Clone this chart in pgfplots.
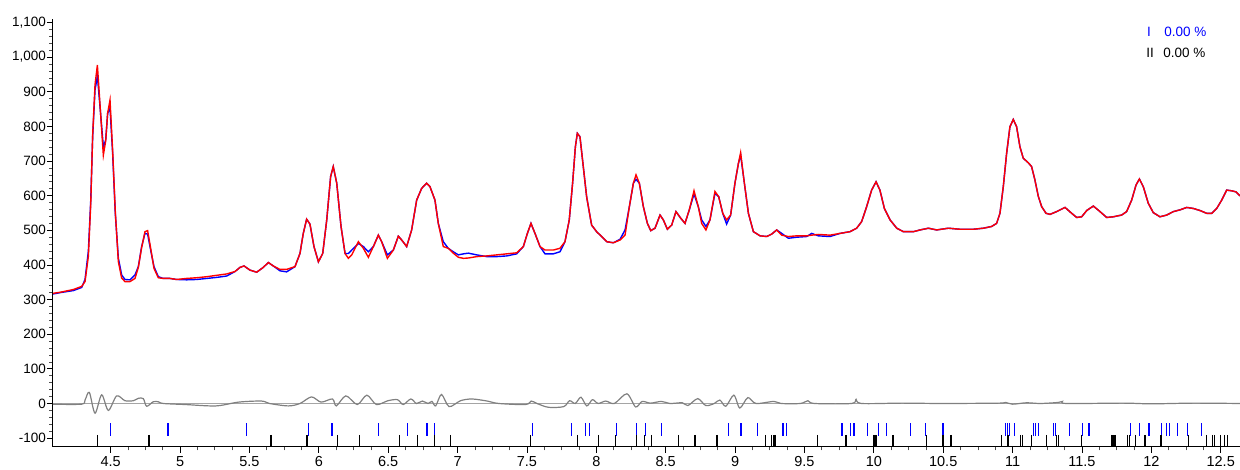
\documentclass[border=0pt]{standalone}
\usepackage{fontspec}
\setmainfont{Liberation Sans}
\usepackage{pgfplots}
\pgfplotsset{compat=1.18}
\usepackage{pgfplotstable}

\definecolor{obsblue}{RGB}{0,0,255}
\definecolor{calcred}{RGB}{255,0,0}
\definecolor{diffgray}{RGB}{128,128,128}
\definecolor{zerogray}{RGB}{165,165,165}

\pgfplotstableread{
x obs calc
4.084 316 318
4.135 320 321
4.231 326 329
4.291 335 338
4.315 358 352
4.339 440 425
4.356 585 575
4.370 770 775
4.387 905 920
4.404 945 977
4.423 857 862
4.447 741 717
4.464 761 758
4.478 838 838
4.495 852 876
4.514 722 730
4.533 549 555
4.555 420 410
4.579 371 362
4.603 358 352
4.639 357 352
4.675 371 361
4.699 395 393
4.723 453 450
4.747 491 496
4.766 489 499
4.788 443 448
4.812 395 390
4.843 366 363
4.879 361 361
4.927 361 361
4.975 358 358
5.047 357 361
5.120 358 363
5.192 361 366
5.264 364 370
5.336 368 374
5.396 381 381
5.432 393 393
5.461 397 397
5.504 385 385
5.552 379 379
5.600 393 393
5.636 407 407
5.672 397 397
5.720 383 387
5.768 380 387
5.828 395 395
5.864 433 433
5.888 491 491
5.912 532 532
5.936 518 518
5.965 453 453
5.997 409 409
6.028 433 433
6.057 530 530
6.085 655 655
6.104 684 684
6.129 636 636
6.160 511 511
6.189 433 433
6.213 433 419
6.237 443 429
6.285 462 467
6.321 453 448
6.357 438 422
6.393 453 453
6.429 486 486
6.453 467 467
6.494 429 419
6.537 443 443
6.573 483 483
6.597 472 472
6.633 453 453
6.669 501 501
6.705 587 587
6.741 621 621
6.777 636 636
6.801 626 626
6.837 587 587
6.861 520 520
6.897 467 453
6.933 448 448
6.969 438 434
7.006 429 422
7.042 432 419
7.078 434 420
7.138 429 424
7.210 424 426
7.282 424 429
7.354 426 432
7.426 432 435
7.474 453 453
7.503 491 491
7.529 520 520
7.558 491 491
7.594 453 453
7.630 432 443
7.690 432 443
7.738 438 448
7.774 467 467
7.805 530 530
7.829 636 636
7.849 741 741
7.863 780 780
7.882 770 770
7.906 684 684
7.930 597 597
7.966 515 515
8.002 496 496
8.038 482 482
8.075 467 467
8.123 464 464
8.171 474 472
8.207 501 486
8.238 568 568
8.267 636 636
8.286 647 660
8.310 636 636
8.339 568 568
8.368 520 520
8.392 499 499
8.423 506 506
8.459 544 544
8.483 530 530
8.512 503 503
8.543 515 515
8.574 554 554
8.608 535 535
8.639 520 520
8.670 559 559
8.704 605 614
8.735 568 568
8.759 530 520
8.790 511 501
8.819 530 530
8.855 607 612
8.882 597 597
8.911 549 549
8.939 518 530
8.968 544 544
8.999 636 636
9.024 693 693
9.040 717 724
9.064 645 645
9.096 549 549
9.132 496 496
9.180 484 484
9.228 482 482
9.264 489 489
9.300 501 501
9.336 491 486
9.384 477 482
9.444 480 484
9.516 482 484
9.552 491 486
9.600 484 488
9.684 482 486
9.756 491 491
9.828 496 496
9.876 506 506
9.912 525 525
9.948 568 568
9.984 616 616
10.016 640 640
10.044 616 616
10.076 563 563
10.117 530 530
10.165 506 506
10.213 496 496
10.285 496 496
10.333 501 501
10.393 506 506
10.453 501 501
10.537 506 506
10.621 503 503
10.717 503 503
10.789 506 506
10.849 511 511
10.885 520 520
10.909 549 549
10.933 626 626
10.957 722 722
10.981 799 799
11.005 820 820
11.029 799 799
11.053 741 741
11.077 708 708
11.113 695 695
11.137 684 684
11.161 645 645
11.186 597 597
11.210 568 568
11.241 549 549
11.270 546 546
11.318 554 554
11.378 566 566
11.426 549 549
11.462 537 537
11.498 539 539
11.534 557 557
11.582 570 570
11.630 554 554
11.678 537 537
11.726 539 539
11.786 544 544
11.822 554 554
11.858 587 587
11.890 631 631
11.914 648 648
11.942 626 626
11.978 578 578
12.014 551 551
12.062 539 539
12.111 544 544
12.159 554 554
12.207 559 559
12.255 566 566
12.303 563 563
12.351 557 557
12.399 549 549
12.435 549 549
12.471 563 563
12.507 587 587
12.543 616 616
12.579 614 614
12.610 611 611
12.639 599 599
}\datamain

\pgfplotstableread{
x d
4.084 -2
4.290 -2
4.315 10
4.346 32
4.387 -28
4.435 25
4.483 -20
4.543 22
4.603 8
4.663 8
4.700 15
4.735 14
4.759 -8
4.807 5
4.843 5
4.879 0
5.037 -3
5.258 -7
5.423 4
5.588 7
5.644 0
5.781 -7
5.864 0
5.947 19
6.016 4
6.098 13
6.126 -7
6.195 22
6.277 -3
6.346 24
6.415 -3
6.498 8
6.567 11
6.608 -3
6.663 13
6.704 0
6.746 7
6.787 0
6.815 6
6.842 -7
6.884 26
6.939 -9
7.021 8
7.104 13
7.214 7
7.297 0
7.490 -3
7.531 7
7.572 0
7.655 -11
7.765 -9
7.807 8
7.848 0
7.889 18
7.931 -7
7.972 11
8.013 0
8.068 7
8.130 0
8.220 28
8.283 -10
8.330 6
8.390 1
8.470 6
8.530 0
8.620 2
8.660 -6
8.731 14
8.789 -6
8.850 0
8.890 10
8.933 -8
8.991 24
9.034 -13
9.092 17
9.150 0
9.280 6
9.330 0
9.470 0
9.525 8
9.570 0
9.840 0
9.872 12
9.910 0
10.200 1
10.500 0
10.900 1
10.950 3
11.000 -2
11.100 2
11.200 0
11.330 3
11.359 6
11.390 0
11.800 1
12.000 -1
12.300 1
12.639 0
}\datadiff

\begin{document}
\begin{tikzpicture}
\useasboundingbox (0,0) rectangle (1240pt,470pt);
\begin{axis}[
  at={(53pt,23pt)}, anchor=south west,
  scale only axis, width=1187pt, height=428pt,
  xmin=4.0841, xmax=12.639, ymin=-125.6, ymax=1110,
  axis x line*=bottom, axis y line*=left,
  axis line style={black, line width=1pt, -},
  xtick={4.5,5,5.5,6,6.5,7,7.5,8,8.5,9,9.5,10,10.5,11,11.5,12,12.5},
  ytick={-100,0,100,200,300,400,500,600,700,800,900,1000,1100},
  minor x tick num=3, minor y tick num=4,
  tick align=outside,
  major tick length=6pt, minor tick length=3.5pt,
  tick style={black, line width=0.8pt},
  every minor tick/.style={gray!60!black, line width=0.7pt},
  yticklabel style={font=\fontsize{13.5}{14}\selectfont, inner sep=1pt},
  xticklabel style={font=\fontsize{14.5}{15}\selectfont},
  /pgf/number format/assume math mode=true,
  /pgf/number format/1000 sep={,},
  clip=false,
]
\addplot[zerogray, line width=1.3pt] coordinates {(4.0841,0) (12.639,0)};
\addplot[diffgray, line width=1.2pt, smooth, tension=0.5] table[x=x, y=d] {\datadiff};
\addplot[obsblue, line width=1.4pt] table[x=x, y=obs] {\datamain};
\addplot[calcred, line width=1.4pt] table[x=x, y=calc] {\datamain};
\addplot[obsblue, only marks, mark=|, mark size=6.2pt, mark options={line width=1.2pt}] coordinates {
(4.500,-75) (4.913,-75) (5.478,-75) (5.927,-75) (6.093,-75) (6.101,-75) (6.432,-75) (6.638,-75) (6.779,-75) (6.834,-75) (7.539,-75) (7.820,-75) (7.922,-75) (7.950,-75) (8.143,-75) (8.289,-75) (8.356,-75) (8.471,-75) (8.951,-75) (9.043,-75) (9.164,-75) (9.346,-75) (9.372,-75) (9.771,-75) (9.829,-75) (9.857,-75) (9.953,-75) (10.036,-75) (10.091,-75) (10.262,-75) (10.371,-75) (10.499,-75) (10.949,-75) (10.964,-75) (10.978,-75) (11.013,-75) (11.148,-75) (11.166,-75) (11.189,-75) (11.293,-75) (11.310,-75) (11.411,-75) (11.504,-75) (11.550,-75) (11.850,-75) (11.917,-75) (11.983,-75) (12.075,-75) (12.110,-75) (12.133,-75) (12.191,-75) (12.260,-75) (12.359,-75)
};
\addplot[black, only marks, mark=|, mark size=6pt, mark options={line width=1.2pt}] coordinates {
(4.406,-108) (4.776,-108) (5.655,-108) (5.914,-108) (6.134,-108) (6.291,-108) (6.580,-108) (6.713,-108) (6.834,-108) (6.947,-108) (7.528,-108) (7.867,-108) (8.016,-108) (8.137,-108) (8.289,-108) (8.350,-108) (8.399,-108) (8.592,-108) (8.711,-108) (8.870,-108) (9.222,-108) (9.265,-108) (9.280,-108) (9.294,-108) (9.592,-108) (9.800,-108) (9.996,-108) (10.008,-108) (10.019,-108) (10.138,-108) (10.377,-108) (10.499,-108) (10.556,-108) (10.920,-108) (10.961,-108) (10.972,-108) (11.059,-108) (11.070,-108) (11.137,-108) (11.244,-108) (11.316,-108) (11.330,-108) (11.495,-108) (11.712,-108) (11.723,-108) (11.738,-108) (11.830,-108) (11.842,-108) (11.885,-108) (11.954,-108) (12.070,-108) (12.269,-108) (12.399,-108) (12.442,-108) (12.457,-108) (12.500,-108) (12.529,-108) (12.549,-108)
};
\node[anchor=west, inner sep=0pt, text=obsblue, font=\fontsize{13.5}{14}\selectfont] at (axis cs:11.968,1072) {I\hspace{13.5pt}0.00 \%};
\node[anchor=west, inner sep=0pt, text=black, font=\fontsize{13.5}{14}\selectfont] at (axis cs:11.962,1012) {II\hspace{9.5pt}0.00 \%};
\end{axis}
\end{tikzpicture}
\end{document}
